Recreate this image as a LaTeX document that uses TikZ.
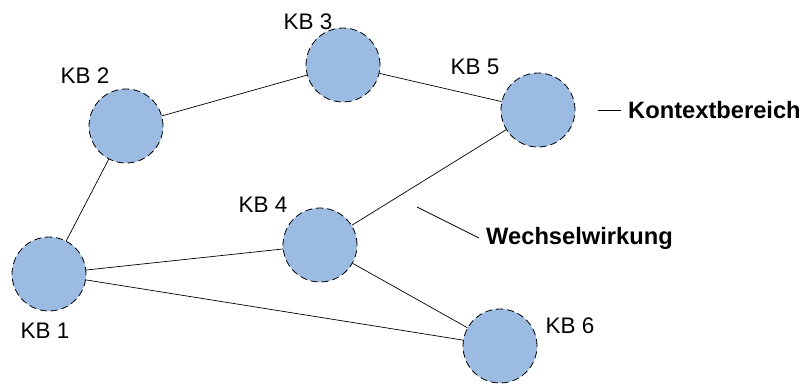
\documentclass[tikz,border=0pt]{standalone}
\usepackage{fontspec}
\setmainfont{Liberation Sans}
\definecolor{areablue}{RGB}{155,187,227}

\tikzstyle{area}=[circle,draw=black,line width=0.8bp,dash pattern=on 7bp off 4bp,fill=areablue,minimum size=74bp,inner sep=0pt]
\tikzstyle{link} = [draw,line width=0.7bp,-]
\tikzstyle{tag} = [font=\fontsize{22.5bp}{27bp}\selectfont,inner sep=0pt]
\tikzstyle{legend} = [font=\fontsize{23.7bp}{28bp}\selectfont\bfseries,anchor=west,inner sep=7bp]

\begin{document}
\begin{tikzpicture}[x=1bp,y=-1bp]
\useasboundingbox (0,0) rectangle (807,385);
\foreach \pos/\name in { {(49,274)/kb1}, {(126,126)/kb2}, {(343,65)/kb3}, {(320,245)/kb4}, {(538,110)/kb5}, {(500,346)/kb6}}
\node[area] (\name) at \pos {};
\foreach \pos/\name/\text in { {(45,331)/t1/KB 1}, {(85,76)/t2/KB 2}, {(308,22)/t3/KB 3}, {(263,205)/t4/KB 4}, {(475,67)/t5/KB 5}, {(570,326)/t6/KB 6}}
\node[tag] (\name) at \pos {\text};
\foreach \source/ \dest in {kb1/kb2, kb2/kb3, kb3/kb5, kb5/kb4, kb1/kb4, kb1/kb6, kb4/kb6}
\draw[link] (\source) -- (\dest);
% legend
\node[legend] (ctx) at (621,110) {Kontextbereich};
\node[legend] (ww) at (479,238) {Wechselwirkung};
\coordinate (ctxend) at (598,110);
\coordinate (wwend) at (417,207);
\draw[link] (ctxend) -- (ctx.west);
\draw[link] (wwend) -- (ww.west);
\end{tikzpicture}
\end{document}
